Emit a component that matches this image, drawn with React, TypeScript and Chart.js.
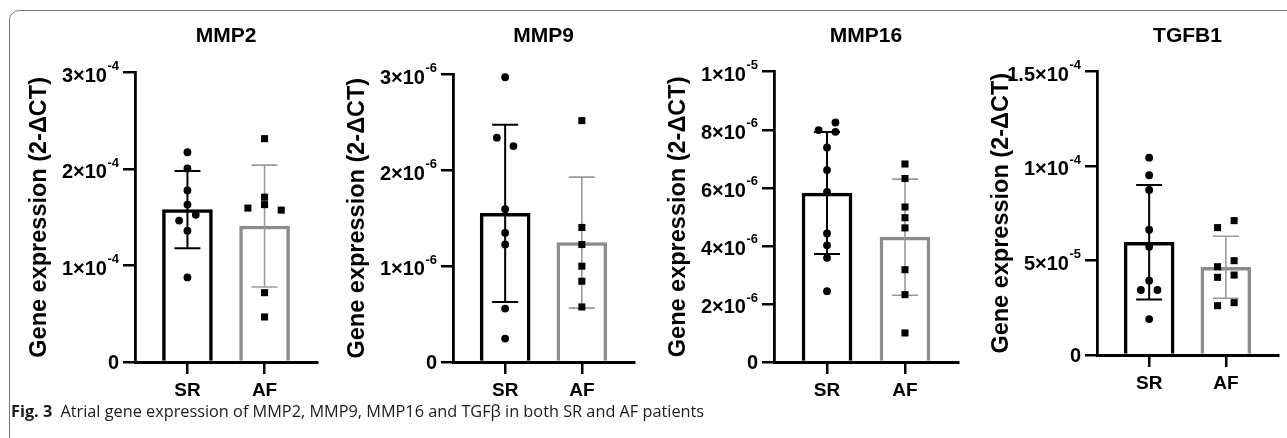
import React, { useEffect, useRef } from 'react';
import { Chart, registerables } from 'chart.js';

Chart.register(...registerables);

// ---------- data ----------
const groups = ['SR', 'AF'];
const yAxisTitle = 'Gene expression (2-ΔCT)';
const captionLead = 'Fig. 3';
const captionText = 'Atrial gene expression of MMP2, MMP9, MMP16 and TGFβ in both SR and AF patients';

// MMP2
const mmp2Mean = [1.58e-4, 1.41e-4];
const mmp2Sd = [0.4e-4, 0.632e-4];
const mmp2SR = [2.175e-4, 2.007e-4, 1.779e-4, 1.632e-4, 1.526e-4, 1.467e-4, 1.361e-4, 0.877e-4];
const mmp2SRJitter = [0, 0, 0, 0, 1, -1, 0, 0];
const mmp2AF = [2.316e-4, 1.709e-4, 1.632e-4, 1.596e-4, 1.575e-4, 0.719e-4, 0.467e-4];
const mmp2AFJitter = [0, 0, 0, -2, 2, 0, 0];
const mmp2TickValues = [0, 1e-4, 2e-4, 3e-4];
const mmp2TickLabels = ['0', '1×10^-4', '2×10^-4', '3×10^-4'];

// MMP9
const mmp9Mean = [1.55e-6, 1.245e-6];
const mmp9Sd = [0.925e-6, 0.683e-6];
const mmp9SR = [2.969e-6, 2.339e-6, 2.252e-6, 1.594e-6, 1.347e-6, 1.225e-6, 0.557e-6, 0.244e-6];
const mmp9SRJitter = [0, -1, 1, 0, 0, 0, 0, 0];
const mmp9AF = [2.517e-6, 1.403e-6, 1.225e-6, 0.999e-6, 0.842e-6, 0.574e-6];
const mmp9AFJitter = [0, 0, 0, 0, 0, 0];
const mmp9TickValues = [0, 1e-6, 2e-6, 3e-6];
const mmp9TickLabels = ['0', '1×10^-6', '2×10^-6', '3×10^-6'];

// MMP16
const mmp16Mean = [5.82e-6, 4.3e-6];
const mmp16Sd = [2.1e-6, 2.0e-6];
const mmp16SR = [7.99e-6, 8.25e-6, 7.93e-6, 7.39e-6, 6.61e-6, 5.86e-6, 4.43e-6, 4.02e-6, 3.59e-6, 2.44e-6];
const mmp16SRJitter = [-1, 1, 1, 0, 0, 0, 0, 0, 0, 0];
const mmp16AF = [6.82e-6, 6.32e-6, 5.34e-6, 4.97e-6, 4.62e-6, 3.18e-6, 2.32e-6, 1.0e-6];
const mmp16AFJitter = [0, 0, 0, 0, 0, 0, 0, 0];
const mmp16TickValues = [0, 2e-6, 4e-6, 6e-6, 8e-6, 1e-5];
const mmp16TickLabels = ['0', '2×10^-6', '4×10^-6', '6×10^-6', '8×10^-6', '1×10^-5'];

// TGFB1
const tgfb1Mean = [5.96e-5, 4.64e-5];
const tgfb1Sd = [3.03e-5, 1.64e-5];
const tgfb1SR = [10.44e-5, 9.51e-5, 8.73e-5, 6.63e-5, 5.73e-5, 3.93e-5, 3.44e-5, 3.44e-5, 1.9e-5];
const tgfb1SRJitter = [0, 0, 0, 0, 0, 0, -1, 1, 0];
const tgfb1AF = [6.74e-5, 7.11e-5, 4.67e-5, 4.99e-5, 4.11e-5, 4.23e-5, 2.61e-5, 2.77e-5];
const tgfb1AFJitter = [-1, 1, -1, 1, -1, 1, -1, 1];
const tgfb1TickValues = [0, 5e-5, 1e-4, 1.5e-4];
const tgfb1TickLabels = ['0', '5×10^-5', '1×10^-4', '1.5×10^-4'];

const panels = [
  { title: 'MMP2', mean: mmp2Mean, sd: mmp2Sd, sr: mmp2SR, srJ: mmp2SRJitter, af: mmp2AF, afJ: mmp2AFJitter, ticks: mmp2TickValues, labels: mmp2TickLabels },
  { title: 'MMP9', mean: mmp9Mean, sd: mmp9Sd, sr: mmp9SR, srJ: mmp9SRJitter, af: mmp9AF, afJ: mmp9AFJitter, ticks: mmp9TickValues, labels: mmp9TickLabels },
  { title: 'MMP16', mean: mmp16Mean, sd: mmp16Sd, sr: mmp16SR, srJ: mmp16SRJitter, af: mmp16AF, afJ: mmp16AFJitter, ticks: mmp16TickValues, labels: mmp16TickLabels },
  { title: 'TGFB1', mean: tgfb1Mean, sd: tgfb1Sd, sr: tgfb1SR, srJ: tgfb1SRJitter, af: tgfb1AF, afJ: tgfb1AFJitter, ticks: tgfb1TickValues, labels: tgfb1TickLabels },
];

// ---------- layout / style ----------
const panelLayout = [
  { left: 10, plotWidth: 182, plotTop: 72.7, plotBottom: 362 },
  { left: 328, plotWidth: 181, plotTop: 74.3, plotBottom: 362 },
  { left: 649, plotWidth: 184, plotTop: 71.7, plotBottom: 362 },
  { left: 972, plotWidth: 181, plotTop: 71.5, plotBottom: 355 },
];
const Y_SCALE_W = 125;
const X_SCALE_H = 45;
const PAD_RIGHT = 6;
const TITLE_SIZE = 21;
const TITLE_PAD_TOP = 24;
const X_MIN = -0.68;
const X_MAX = 1.68;
const JITTER = 0.108;
const FONT = "'Liberation Sans', Arial, sans-serif";
const SR_COLOR = '#000000';
const AF_COLOR = '#8c8c8c';
const AF_ERR_COLOR = '#9a9a9a';

function toUnicodeLabel(label: string) {
  const sup: Record<string, string> = { '-': '⁻', '0': '⁰', '1': '¹', '2': '²', '3': '³', '4': '⁴', '5': '⁵', '6': '⁶', '7': '⁷', '8': '⁸', '9': '⁹' };
  const [base, exp] = label.split('^');
  return exp ? base + exp.split('').map((c) => sup[c] || c).join('') : base;
}

function Panel({ spec, layout }: { spec: any; layout: any }) {
  const ref = useRef<HTMLCanvasElement | null>(null);
  const width = Y_SCALE_W + layout.plotWidth + PAD_RIGHT;
  const height = Math.round(layout.plotBottom + X_SCALE_H);
  const titleBlock = TITLE_SIZE * 1.2;
  const padBottom = layout.plotTop - TITLE_PAD_TOP - titleBlock;

  useEffect(() => {
    if (!ref.current) return;
    const errorBars = {
      id: 'errorBars',
      afterDatasetDraw(chart: any, args: any) {
        if (args.meta.type !== 'bar') return;
        const { ctx } = chart;
        const xs = chart.scales.x;
        const ys = chart.scales.y;
        ctx.save();
        spec.mean.forEach((m: number, i: number) => {
          const px = xs.getPixelForValue(i);
          const top = ys.getPixelForValue(m + spec.sd[i]);
          const bot = ys.getPixelForValue(m - spec.sd[i]);
          ctx.strokeStyle = i === 0 ? SR_COLOR : AF_ERR_COLOR;
          ctx.lineWidth = i === 0 ? 2 : 1.6;
          ctx.beginPath();
          ctx.moveTo(px, top);
          ctx.lineTo(px, bot);
          ctx.moveTo(px - 13, top);
          ctx.lineTo(px + 13, top);
          ctx.moveTo(px - 13, bot);
          ctx.lineTo(px + 13, bot);
          ctx.stroke();
        });
        ctx.restore();
      },
    };

    // y tick labels in scientific notation with a real superscript exponent
    const sciTicks = {
      id: 'sciTicks',
      afterDraw(chart: any) {
        const ys = chart.scales.y;
        const ctx = chart.ctx;
        ctx.save();
        ctx.fillStyle = '#000';
        ctx.textBaseline = 'alphabetic';
        ctx.textAlign = 'right';
        const right = chart.chartArea.left - 16;
        ys.ticks.forEach((t: any, i: number) => {
          const [base, exp] = String(spec.labels[i]).split('^');
          const y = ys.getPixelForValue(t.value);
          if (!exp) {
            ctx.font = `bold 20px ${FONT}`;
            ctx.fillText(base, right, y + 7.2);
            return;
          }
          ctx.font = `bold 13px ${FONT}`;
          const ew = ctx.measureText(exp).width;
          ctx.fillText(exp, right, y - 2.4);
          ctx.font = `bold 20px ${FONT}`;
          ctx.fillText(base, right - ew - 0.5, y + 9.3);
        });
        ctx.restore();
      },
    };

    const chart = new Chart(ref.current, {
      type: 'bar',
      data: {
        datasets: [
          {
            type: 'bar',
            data: spec.mean.map((m: number, i: number) => ({ x: i, y: m })),
            backgroundColor: '#ffffff',
            borderColor: [SR_COLOR, AF_COLOR],
            borderWidth: 3.5,
            barThickness: 50,
            order: 2,
          } as any,
          {
            type: 'scatter',
            data: spec.sr.map((v: number, k: number) => ({ x: 0 + spec.srJ[k] * JITTER, y: v })),
            pointStyle: 'circle',
            pointRadius: 3.9,
            backgroundColor: '#000',
            borderColor: '#000',
            borderWidth: 0,
            clip: false,
            order: 1,
          } as any,
          {
            type: 'scatter',
            data: spec.af.map((v: number, k: number) => ({ x: 1 + spec.afJ[k] * JITTER, y: v })),
            pointStyle: 'rect',
            pointRadius: 5,
            backgroundColor: '#000',
            borderColor: '#000',
            borderWidth: 0,
            clip: false,
            order: 1,
          } as any,
        ],
      },
      options: {
        responsive: false,
        animation: false,
        events: [],
        layout: { padding: { top: 0, right: PAD_RIGHT, bottom: 0, left: 0 } },
        plugins: {
          legend: { display: false },
          tooltip: { enabled: false },
          title: {
            display: true,
            text: spec.title,
            fullSize: false,
            color: '#000',
            font: { family: FONT, size: TITLE_SIZE, weight: 'bold' },
            padding: { top: TITLE_PAD_TOP, bottom: padBottom },
          },
        },
        scales: {
          x: {
            type: 'linear',
            min: X_MIN,
            max: X_MAX,
            offset: false,
            afterBuildTicks: (s: any) => {
              s.ticks = groups.map((_, i) => ({ value: i }));
            },
            afterFit: (s: any) => {
              s.height = X_SCALE_H;
            },
            ticks: {
              callback: (_v: any, i: number) => groups[i],
              color: '#000',
              font: { family: FONT, size: 19, weight: 'bold' },
              padding: 5,
              autoSkip: false,
              maxRotation: 0,
            },
            grid: { offset: false, drawOnChartArea: false, drawTicks: true, tickLength: 12, color: '#000', lineWidth: 2.5 },
            border: { display: true, color: '#000', width: 3 },
          },
          y: {
            type: 'linear',
            min: 0,
            max: spec.ticks[spec.ticks.length - 1],
            afterBuildTicks: (s: any) => {
              s.ticks = spec.ticks.map((v: number) => ({ value: v }));
            },
            afterFit: (s: any) => {
              s.width = Y_SCALE_W;
            },
            ticks: {
              display: false,
              callback: (_v: any, i: number) => toUnicodeLabel(spec.labels[i]),
              autoSkip: false,
            },
            grid: { drawOnChartArea: false, drawTicks: true, tickLength: 12, color: '#000', lineWidth: 2.5 },
            border: { display: true, color: '#000', width: 2.8 },
            title: {
              display: true,
              text: yAxisTitle,
              color: '#000',
              font: { family: FONT, size: 23.5, weight: 'bold' },
              padding: { top: 15, bottom: 0 },
            },
          },
        },
      } as any,
      plugins: [errorBars, sciTicks],
    });
    return () => chart.destroy();
  }, []);

  return (
    <canvas
      ref={ref}
      width={width}
      height={height}
      style={{ position: 'absolute', left: layout.left, top: 0, width, height }}
    />
  );
}

export default function App() {
  return (
    <div
      style={{
        position: 'absolute',
        left: 0,
        top: 0,
        width: 1287,
        height: 438,
        overflow: 'hidden',
        background: '#fff',
      }}
    >
      <div
        style={{
          position: 'absolute',
          left: 9,
          top: 10,
          width: 1300,
          height: 440,
          border: '1.5px solid #7a7a7a',
          borderRadius: 10,
          boxSizing: 'border-box',
        }}
      />
      {panels.map((p, i) => (
        <Panel key={p.title} spec={p} layout={panelLayout[i]} />
      ))}
      <div
        style={{
          position: 'absolute',
          left: 11,
          top: 400,
          fontFamily: "'Open Sans', 'Noto Sans', sans-serif",
          fontSize: 16.3,
          color: '#1a1a1a',
          whiteSpace: 'nowrap',
        }}
      >
        <b>{captionLead}</b>
        {'\u2002'}
        {captionText}
      </div>
    </div>
  );
}
